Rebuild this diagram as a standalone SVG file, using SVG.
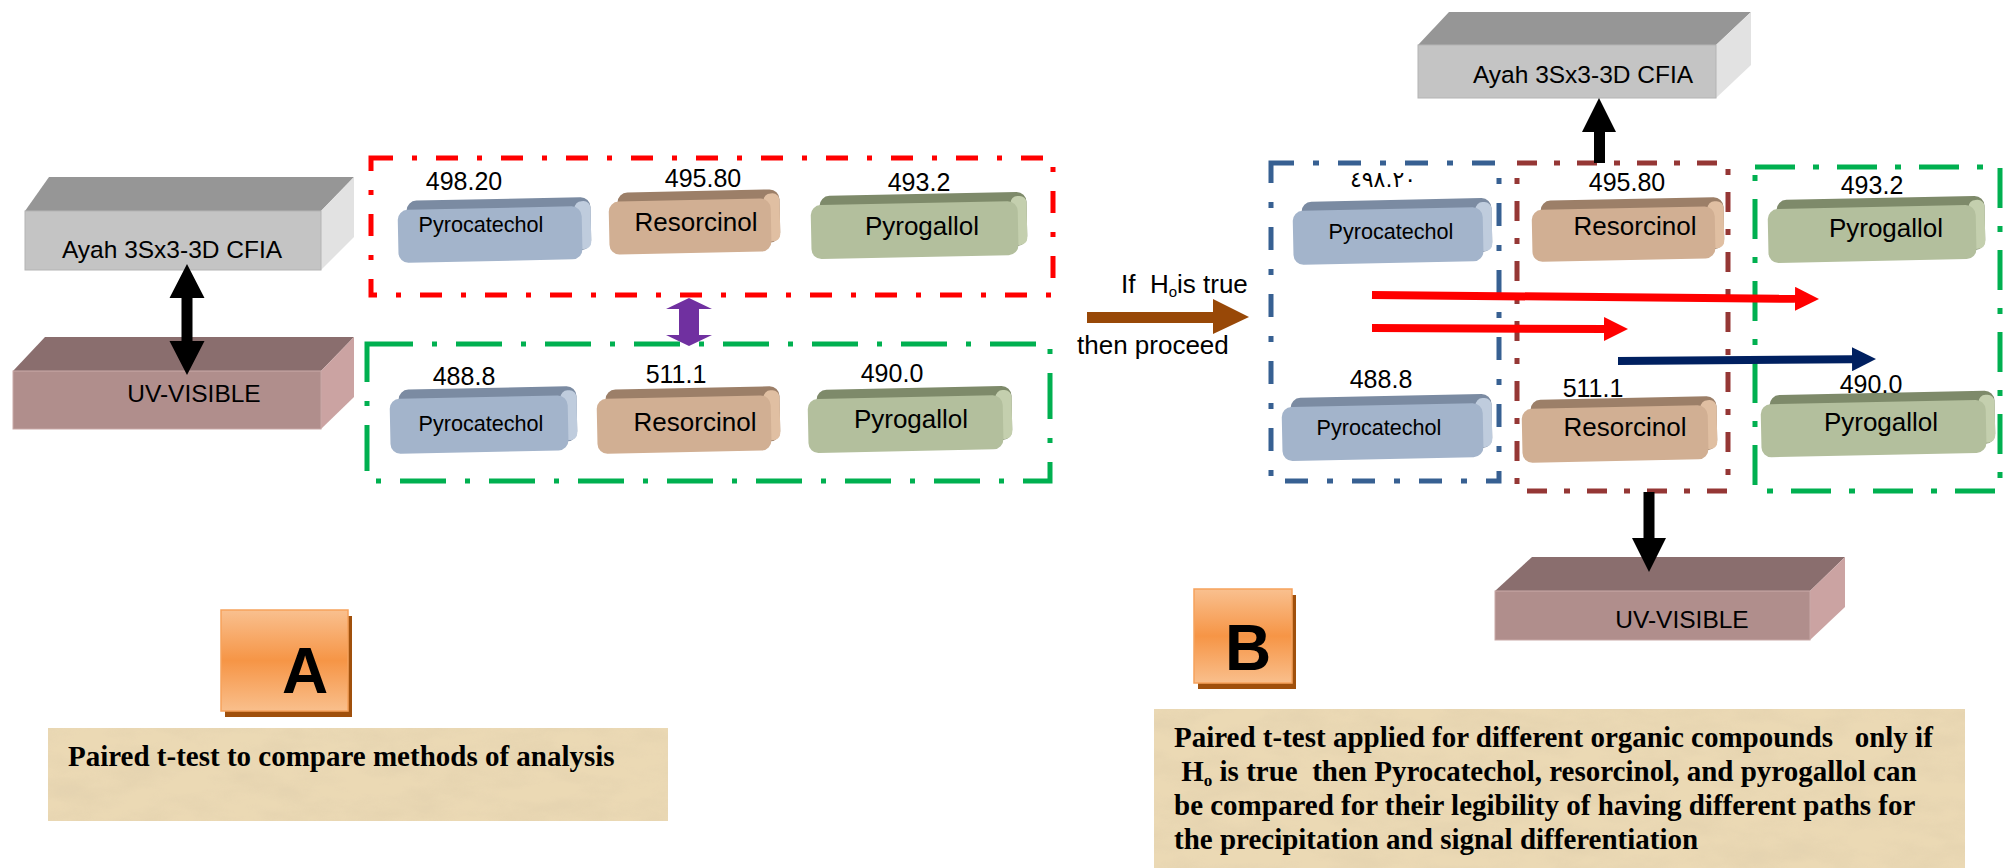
<svg xmlns="http://www.w3.org/2000/svg" width="2008" height="868" viewBox="0 0 2008 868">
<defs>
<style>
.t{font-family:"Liberation Sans",Arial,sans-serif;fill:#000;white-space:pre}
.num{font-size:25px;text-anchor:middle}
.pc{font-size:21.6px;text-anchor:middle}
.rs{font-size:26px;text-anchor:middle}
.box3{font-size:24.5px;text-anchor:middle}
.cap{font-family:"Liberation Serif","Times New Roman",serif;font-weight:bold;font-size:29px;fill:#000;white-space:pre}
.big{font-family:"Liberation Sans",Arial,sans-serif;font-weight:bold;font-size:64px;text-anchor:middle;fill:#000}
.gT{fill:#969696}.gF{fill:#C4C4C4;stroke:#B4B4B4;stroke-width:1}.gS{fill:#E2E2E2}
.uT{fill:#8A6E6E}.uF{fill:#B08E8C;stroke:#C9A9A7;stroke-width:1}.uS{fill:#CBA3A2}
.bt{fill:#7B8BA2}.bs{fill:#BFCCDD}.bf{fill:#A3B4CB}
.tt{fill:#9C7F68}.ts{fill:#E0BFA2}.tf{fill:#D1AF93}
.vt{fill:#7E8A6A}.vs{fill:#C4CFAE}.vf{fill:#B3BF9D}
.dd{fill:none;stroke-width:5}
.red{stroke:#FF0000;stroke-dasharray:22 19 5 19}
.grn{stroke:#00B050;stroke-dasharray:46 19 5 19}
.blu{stroke:#376092;stroke-dasharray:23 19 6 19}
.mar{stroke:#953735;stroke-dasharray:20 17 6 17}
.gr2{stroke:#00B050;stroke-dasharray:40 18 6 18}
.paper{fill:#EBD9B4}
</style>
<linearGradient id="org" x1="0" y1="0" x2="0" y2="1">
<stop offset="0" stop-color="#F9C08F"/>
<stop offset="0.5" stop-color="#F69546"/>
<stop offset="1" stop-color="#F9BF8C"/>
</linearGradient>
<filter id="tex" x="0" y="0" width="1" height="1">
<feTurbulence type="fractalNoise" baseFrequency="0.018 0.045" numOctaves="4" seed="7" result="n"/>
<feColorMatrix in="n" type="matrix" values="0 0 0 0 0.74  0 0 0 0 0.62  0 0 0 0 0.42  1.5 0 0 0 -0.55" result="c"/>
<feComposite in="c" in2="SourceGraphic" operator="in"/>
</filter>
<marker id="ahR" markerUnits="userSpaceOnUse" markerWidth="24" markerHeight="24" viewBox="0 0 24 24" refX="0" refY="12" orient="auto"><path d="M0,0 L24,12 L0,24 z" fill="#FF0000"/></marker>
<marker id="ahN" markerUnits="userSpaceOnUse" markerWidth="24" markerHeight="24" viewBox="0 0 24 24" refX="0" refY="12" orient="auto"><path d="M0,0 L24,12 L0,24 z" fill="#002060"/></marker>
</defs>
<rect width="2008" height="868" fill="#FFFFFF"/>

<!-- dashed group frames -->
<g id="frames">
<rect class="dd red" x="371" y="158" width="682" height="137"/>
<rect class="dd grn" x="367" y="344" width="683" height="137"/>
<rect class="dd blu" x="1271" y="163" width="228" height="318"/>
<rect class="dd mar" x="1517" y="163" width="211" height="328"/>
<rect class="dd gr2" x="1755" y="167" width="245" height="324"/>
</g>

<!-- Left panel 3D boxes -->
<g id="ayahLeft">
<polygon class="gT" points="25,211 49,177 354,177 321,211"/>
<polygon class="gS" points="321,211 354,177 354,237 321,270"/>
<rect class="gF" x="25" y="211" width="296" height="59"/>
<text class="t box3" x="172" y="258">Ayah 3Sx3-3D CFIA</text>
</g>
<g id="uvLeft">
<polygon class="uT" points="13,371 45,337 354,337 321,371"/>
<polygon class="uS" points="321,371 354,337 354,397 321,429"/>
<rect class="uF" x="13" y="371" width="308" height="58"/>
<text class="t box3" x="194" y="402">UV-VISIBLE</text>
</g>

<!-- Left panel pills -->
<g id="pyrocatechol1">
<g transform="translate(398,199) rotate(-1.2 96 31)"><rect class="bt" x="9" y="0" width="184" height="53" rx="10"/><rect class="bs" x="177" y="4" width="16" height="48" rx="7"/><rect class="bf" x="0" y="9" width="184" height="53" rx="10"/></g>
<text class="t pc" x="481" y="232">Pyrocatechol</text>
<text class="t num" x="464" y="190">498.20</text>
</g>
<g id="resorcinol1">
<g transform="translate(609,191) rotate(-1.2 85 31)"><rect class="tt" x="9" y="0" width="162" height="53" rx="10"/><rect class="ts" x="155" y="4" width="16" height="48" rx="7"/><rect class="tf" x="0" y="9" width="162" height="53" rx="10"/></g>
<text class="t rs" x="696" y="231">Resorcinol</text>
<text class="t num" x="703" y="187">495.80</text>
</g>
<g id="pyrogallol1">
<g transform="translate(811,194) rotate(-1.2 108 31)"><rect class="vt" x="9" y="0" width="207" height="54" rx="10"/><rect class="vs" x="200" y="4" width="16" height="49" rx="7"/><rect class="vf" x="0" y="9" width="207" height="54" rx="10"/></g>
<text class="t rs" x="922" y="235">Pyrogallol</text>
<text class="t num" x="919" y="191">493.2</text>
</g>
<g id="pyrocatechol2">
<g transform="translate(390,388) rotate(-1.2 93 32)"><rect class="bt" x="9" y="0" width="178" height="55" rx="10"/><rect class="bs" x="171" y="4" width="16" height="50" rx="7"/><rect class="bf" x="0" y="9" width="178" height="55" rx="10"/></g>
<text class="t pc" x="481" y="431">Pyrocatechol</text>
<text class="t num" x="464" y="385">488.8</text>
</g>
<g id="resorcinol2">
<g transform="translate(597,388) rotate(-1.2 91 32)"><rect class="tt" x="9" y="0" width="174" height="55" rx="10"/><rect class="ts" x="167" y="4" width="16" height="50" rx="7"/><rect class="tf" x="0" y="9" width="174" height="55" rx="10"/></g>
<text class="t rs" x="695" y="431">Resorcinol</text>
<text class="t num" x="676" y="383">511.1</text>
</g>
<g id="pyrogallol2">
<g transform="translate(808,388) rotate(-1.2 102 31)"><rect class="vt" x="9" y="0" width="195" height="54" rx="10"/><rect class="vs" x="188" y="4" width="16" height="49" rx="7"/><rect class="vf" x="0" y="9" width="195" height="54" rx="10"/></g>
<text class="t rs" x="911" y="428">Pyrogallol</text>
<text class="t num" x="892" y="382">490.0</text>
</g>

<!-- Right panel 3D boxes -->
<g id="ayahRight">
<polygon class="gT" points="1418,45 1449,12 1751,12 1716,45"/>
<polygon class="gS" points="1716,45 1751,12 1751,65 1716,98"/>
<rect class="gF" x="1418" y="45" width="298" height="53"/>
<text class="t box3" x="1583" y="83">Ayah 3Sx3-3D CFIA</text>
</g>
<g id="uvRight">
<polygon class="uT" points="1495,591 1532,557 1845,557 1810,591"/>
<polygon class="uS" points="1810,591 1845,557 1845,607 1810,640"/>
<rect class="uF" x="1495" y="591" width="315" height="49"/>
<text class="t box3" x="1682" y="628">UV-VISIBLE</text>
</g>

<!-- Right panel pills -->
<g id="pyrocatechol3">
<g transform="translate(1293,200) rotate(-1.2 99 31)"><rect class="bt" x="9" y="0" width="190" height="54" rx="10"/><rect class="bs" x="183" y="4" width="16" height="49" rx="7"/><rect class="bf" x="0" y="9" width="190" height="54" rx="10"/></g>
<text class="t pc" x="1391" y="239">Pyrocatechol</text>
<text class="t num" x="1383" y="187" style="font-family:'DejaVu Sans',sans-serif;font-size:22px">٤٩٨.٢٠</text>
</g>
<g id="pyrocatechol4">
<g transform="translate(1282,396) rotate(-1.2 105 31)"><rect class="bt" x="9" y="0" width="201" height="54" rx="10"/><rect class="bs" x="194" y="4" width="16" height="49" rx="7"/><rect class="bf" x="0" y="9" width="201" height="54" rx="10"/></g>
<text class="t pc" x="1379" y="435">Pyrocatechol</text>
<text class="t num" x="1381" y="388">488.8</text>
</g>
<g id="resorcinol3">
<g transform="translate(1532,199) rotate(-1.2 96 30)"><rect class="tt" x="9" y="0" width="183" height="52" rx="10"/><rect class="ts" x="176" y="4" width="16" height="47" rx="7"/><rect class="tf" x="0" y="9" width="183" height="52" rx="10"/></g>
<text class="t rs" x="1635" y="235">Resorcinol</text>
<text class="t num" x="1627" y="191">495.80</text>
</g>
<g id="resorcinol4">
<g transform="translate(1522,398) rotate(-1.2 97 31)"><rect class="tt" x="9" y="0" width="186" height="54" rx="10"/><rect class="ts" x="179" y="4" width="16" height="49" rx="7"/><rect class="tf" x="0" y="9" width="186" height="54" rx="10"/></g>
<text class="t rs" x="1625" y="436">Resorcinol</text>
<text class="t num" x="1593" y="397">511.1</text>
</g>
<g id="pyrogallol3">
<g transform="translate(1768,198) rotate(-1.2 108 31)"><rect class="vt" x="9" y="0" width="208" height="54" rx="10"/><rect class="vs" x="201" y="4" width="16" height="49" rx="7"/><rect class="vf" x="0" y="9" width="208" height="54" rx="10"/></g>
<text class="t rs" x="1886" y="237">Pyrogallol</text>
<text class="t num" x="1872" y="194">493.2</text>
</g>
<g id="pyrogallol4">
<g transform="translate(1761,393) rotate(-1.2 117 31)"><rect class="vt" x="9" y="0" width="225" height="53" rx="10"/><rect class="vs" x="218" y="4" width="16" height="48" rx="7"/><rect class="vf" x="0" y="9" width="225" height="53" rx="10"/></g>
<text class="t rs" x="1881" y="431">Pyrogallol</text>
<text class="t num" x="1871" y="393">490.0</text>
</g>

<!-- connectors -->
<g id="connectors">
<polygon fill="#000" points="187,264 204.5,298 192.5,298 192.5,341 204.5,341 187,375 169.5,341 181.5,341 181.5,298 169.5,298"/>
<polygon fill="#7030A0" points="689,298 712,309 699,309 699,335 712,335 689,346 666,335 679,335 679,309 666,309"/>
<polygon fill="#984807" points="1087,312 1213,312 1213,299 1249,317 1213,334 1213,323 1087,323"/>
<polygon fill="#000" points="1599,98 1616,132 1605,132 1605,163 1594,163 1594,132 1582,132"/>
<polygon fill="#000" points="1643.5,492 1654.5,492 1654.5,538 1666,538 1649,572 1632,538 1643.5,538"/>
<line x1="1372" y1="295" x2="1795" y2="298.8" stroke="#FF0000" stroke-width="8" marker-end="url(#ahR)"/>
<line x1="1372" y1="328" x2="1604" y2="329" stroke="#FF0000" stroke-width="8" marker-end="url(#ahR)"/>
<line x1="1618" y1="361" x2="1852" y2="359.2" stroke="#002060" stroke-width="8" marker-end="url(#ahN)"/>
</g>

<g id="condition">
<text class="t" x="1121" y="293" font-size="26">If  H<tspan font-size="15" dy="4">o</tspan><tspan dy="-4">is true</tspan></text>
<text class="t" x="1077" y="354" font-size="26">then proceed</text>
</g>

<!-- labels A / B -->
<g id="labelA">
<rect x="225" y="616" width="127" height="101" fill="#A0500C"/>
<rect x="221" y="610" width="127" height="101" fill="url(#org)" stroke="#F6A25C" stroke-width="1.5"/>
<text class="big" x="305" y="693">A</text>
</g>
<g id="labelB">
<rect x="1198" y="595" width="98" height="94" fill="#A0500C"/>
<rect x="1194" y="589" width="98" height="94" fill="url(#org)" stroke="#F6A25C" stroke-width="1.5"/>
<text class="big" x="1248" y="670">B</text>
</g>

<!-- captions -->
<g id="captionA">
<rect class="paper" x="48" y="728" width="620" height="93"/>
<rect x="48" y="728" width="620" height="93" fill="#fff" filter="url(#tex)" opacity="0.7"/>
<text class="cap" x="68" y="766">Paired t-test to compare methods of analysis</text>
</g>
<g id="captionB">
<rect class="paper" x="1154" y="709" width="811" height="159"/>
<rect x="1154" y="709" width="811" height="159" fill="#fff" filter="url(#tex)" opacity="0.7"/>
<text class="cap" x="1174" y="747">Paired t-test applied for different organic compounds   only if</text>
<text class="cap" x="1174" y="781"> H<tspan font-size="17" dy="5">o</tspan><tspan dy="-5"> is true  then Pyrocatechol, resorcinol, and pyrogallol can</tspan></text>
<text class="cap" x="1174" y="815">be compared for their legibility of having different paths for</text>
<text class="cap" x="1174" y="849">the precipitation and signal differentiation</text>
</g>
</svg>
